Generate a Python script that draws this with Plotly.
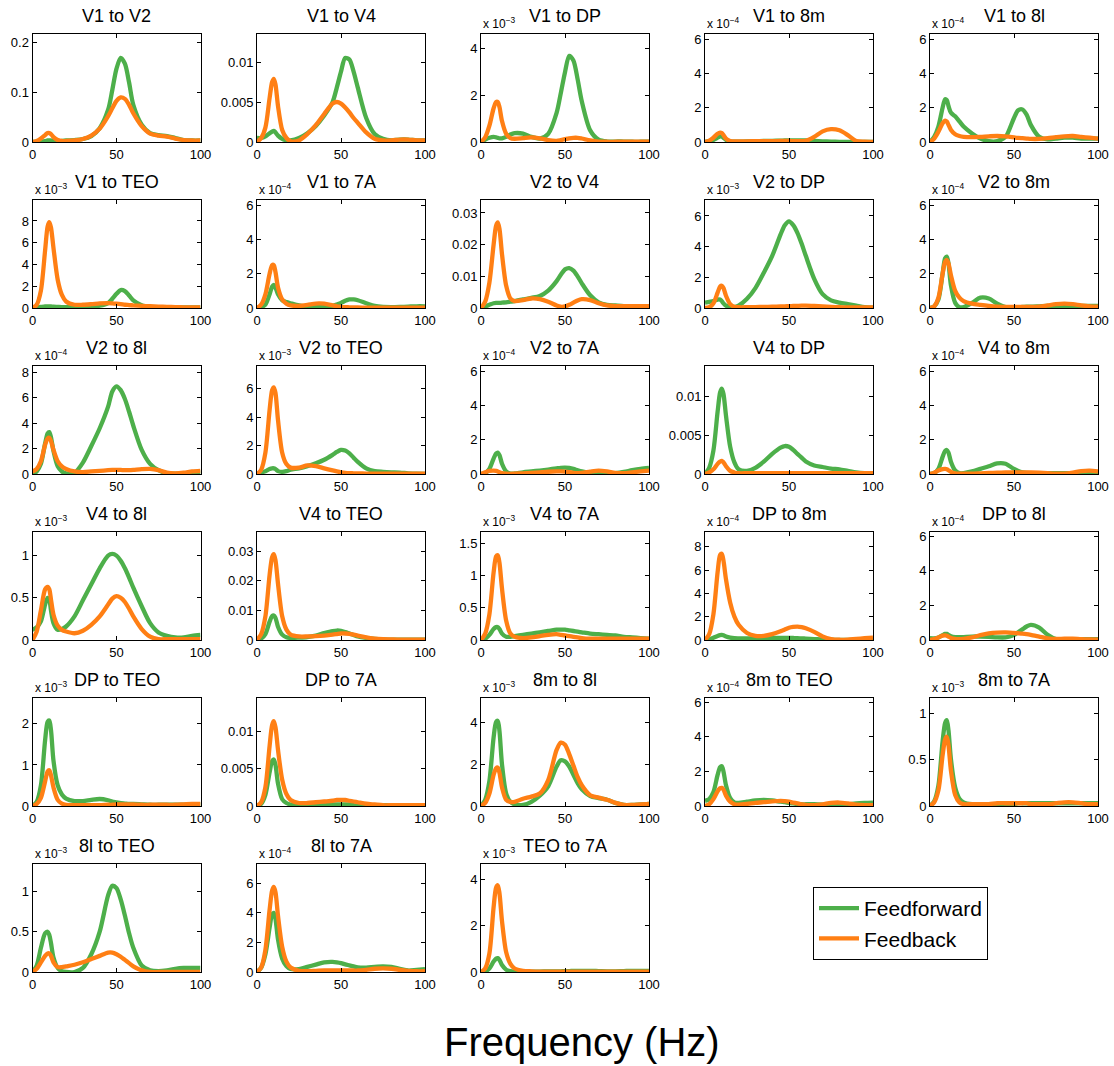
import plotly.graph_objects as go

# ---------------- data ----------------
X = [0, 2.5, 5, 7.5, 9, 10, 11, 12.5, 15, 17.5, 20, 25, 30, 35, 40, 45, 47.5, 50,
     52.5, 55, 57.5, 60, 65, 70, 75, 80, 85, 90, 95, 100]

TITLES = ['V1 to V2', 'V1 to V4', 'V1 to DP', 'V1 to 8m', 'V1 to 8l',
          'V1 to TEO', 'V1 to 7A', 'V2 to V4', 'V2 to DP', 'V2 to 8m',
          'V2 to 8l', 'V2 to TEO', 'V2 to 7A', 'V4 to DP', 'V4 to 8m',
          'V4 to 8l', 'V4 to TEO', 'V4 to 7A', 'DP to 8m', 'DP to 8l',
          'DP to TEO', 'DP to 7A', '8m to 8l', '8m to TEO', '8m to 7A',
          '8l to TEO', '8l to 7A', 'TEO to 7A']

YMAX = [0.218, 0.0135, 4.64, 6.3, 6.3,
        9.93, 6.3, 0.0341, 7.04, 6.3,
        8.5, 7.6, 6.3, 0.0139, 6.3,
        1.28, 0.0365, 1.68, 9.26, 6.25,
        2.63, 0.0144, 5.2, 6.25, 1.17,
        1.34, 7.3, 4.67]

DTICK = [0.1, 0.005, 2, 2, 2,
         2, 2, 0.01, 2, 2,
         2, 2, 2, 0.005, 2,
         0.5, 0.01, 0.5, 2, 2,
         1, 0.005, 2, 2, 0.5,
         0.5, 2, 2]

EXP = [0, 0, -3, -4, -4,
       -3, -4, 0, -3, -4,
       -4, -3, -4, 0, -4,
       -3, 0, -3, -4, -4,
       -3, 0, -3, -4, -3,
       -3, -4, -3]

ff_v1_v2 = [0, 0.0005, 0.001, 0.002, 0.003, 0.003, 0.003, 0.002, 0.002, 0.002, 0.003, 0.004, 0.006, 0.012, 0.028, 0.065, 0.105, 0.148, 0.17, 0.158, 0.12, 0.075, 0.035, 0.018, 0.014, 0.012, 0.008, 0.004, 0.003, 0.003]
fb_v1_v2 = [0, 0.002, 0.007, 0.014, 0.018, 0.018, 0.016, 0.01, 0.004, 0.002, 0.002, 0.003, 0.006, 0.013, 0.027, 0.052, 0.068, 0.083, 0.09, 0.087, 0.075, 0.058, 0.032, 0.017, 0.013, 0.011, 0.007, 0.004, 0.003, 0.003]
ff_v1_v4 = [0.0005, 0.0005, 0.0007, 0.0011, 0.0013, 0.0014, 0.0012, 0.0008, 0.0004, 0.0002, 0.0002, 0.0005, 0.0011, 0.002, 0.0033, 0.005, 0.0068, 0.0088, 0.0105, 0.0103, 0.0088, 0.0068, 0.003, 0.001, 0.0004, 0.0002, 0.0003, 0.0003, 0.0002, 0.0002]
fb_v1_v4 = [0, 0.0005, 0.0018, 0.0055, 0.0075, 0.0079, 0.0072, 0.0045, 0.0015, 0.0005, 0.0001, 0.0002, 0.001, 0.0021, 0.0035, 0.0048, 0.005, 0.0048, 0.0043, 0.0037, 0.003, 0.0024, 0.0012, 0.0004, 0.0002, 0.0002, 0.0003, 0.0003, 0.0002, 0.0002]
ff_v1_dp = [0, 0.1, 0.18, 0.22, 0.2, 0.18, 0.16, 0.16, 0.22, 0.32, 0.38, 0.36, 0.22, 0.15, 0.35, 1.25, 2.1, 3.0, 3.7, 3.5, 2.7, 1.75, 0.5, 0.1, 0.02, 0.02, 0.02, 0.01, 0.01, 0.01]
fb_v1_dp = [0, 0.2, 0.7, 1.45, 1.72, 1.72, 1.5, 0.9, 0.35, 0.17, 0.14, 0.17, 0.2, 0.16, 0.08, 0.05, 0.08, 0.12, 0.16, 0.18, 0.18, 0.15, 0.07, 0.02, 0.01, 0.01, 0.01, 0.01, 0.01, 0.01]
ff_v1_8m = [0, 0.05, 0.12, 0.25, 0.33, 0.32, 0.25, 0.12, 0.04, 0.02, 0.02, 0.03, 0.05, 0.06, 0.07, 0.08, 0.09, 0.1, 0.1, 0.1, 0.1, 0.09, 0.07, 0.04, 0.02, 0.01, 0.01, 0.01, 0.01, 0.01]
fb_v1_8m = [0, 0.08, 0.25, 0.48, 0.55, 0.52, 0.4, 0.2, 0.06, 0.03, 0.03, 0.04, 0.05, 0.05, 0.05, 0.06, 0.06, 0.06, 0.05, 0.05, 0.05, 0.07, 0.3, 0.62, 0.75, 0.68, 0.4, 0.06, 0.02, 0.01]
ff_v1_8l = [0, 0.3, 0.9, 2.0, 2.5, 2.45, 2.1, 1.7, 1.5, 1.2, 0.9, 0.5, 0.2, 0.05, 0.05, 0.3, 0.8, 1.4, 1.85, 1.9, 1.6, 1.0, 0.3, 0.15, 0.2, 0.25, 0.25, 0.2, 0.2, 0.2]
fb_v1_8l = [0, 0.2, 0.6, 1.1, 1.25, 1.2, 1.0, 0.7, 0.45, 0.35, 0.3, 0.28, 0.3, 0.33, 0.35, 0.33, 0.3, 0.27, 0.24, 0.22, 0.2, 0.18, 0.18, 0.22, 0.28, 0.33, 0.35, 0.3, 0.25, 0.2]
ff_v1_teo = [0, 0.05, 0.1, 0.15, 0.15, 0.15, 0.14, 0.12, 0.1, 0.08, 0.08, 0.1, 0.12, 0.15, 0.22, 0.45, 0.85, 1.3, 1.65, 1.55, 1.15, 0.7, 0.25, 0.1, 0.06, 0.05, 0.05, 0.05, 0.05, 0.05]
fb_v1_teo = [0, 0.3, 1.6, 5.3, 7.5, 7.9, 7.4, 5.5, 2.6, 1.2, 0.6, 0.3, 0.3, 0.35, 0.42, 0.45, 0.43, 0.4, 0.36, 0.3, 0.27, 0.24, 0.2, 0.16, 0.13, 0.1, 0.08, 0.06, 0.05, 0.05]
ff_v1_7a = [0, 0.05, 0.2, 0.8, 1.25, 1.35, 1.2, 0.8, 0.45, 0.35, 0.28, 0.15, 0.08, 0.05, 0.06, 0.12, 0.2, 0.3, 0.42, 0.5, 0.5, 0.45, 0.28, 0.12, 0.06, 0.05, 0.06, 0.08, 0.1, 0.1]
fb_v1_7a = [0, 0.2, 0.8, 2.0, 2.5, 2.5, 2.1, 1.2, 0.5, 0.25, 0.15, 0.12, 0.18, 0.26, 0.25, 0.15, 0.1, 0.07, 0.05, 0.04, 0.03, 0.03, 0.02, 0.02, 0.02, 0.02, 0.02, 0.02, 0.02, 0.02]
ff_v2_v4 = [0, 0.0005, 0.001, 0.0015, 0.0016, 0.0016, 0.0016, 0.0017, 0.0018, 0.002, 0.0022, 0.0027, 0.0032, 0.0038, 0.0055, 0.0085, 0.0105, 0.0122, 0.0126, 0.0118, 0.01, 0.0078, 0.004, 0.0018, 0.001, 0.0008, 0.0006, 0.0005, 0.0005, 0.0005]
fb_v2_v4 = [0, 0.002, 0.008, 0.02, 0.026, 0.027, 0.025, 0.017, 0.007, 0.003, 0.0022, 0.0025, 0.003, 0.0028, 0.002, 0.0008, 0.0004, 0.0005, 0.001, 0.0017, 0.0024, 0.0028, 0.0025, 0.0015, 0.0008, 0.0006, 0.0006, 0.0006, 0.0006, 0.0006]
ff_v2_dp = [0.35, 0.4, 0.45, 0.55, 0.55, 0.45, 0.3, 0.15, 0.05, 0.05, 0.15, 0.6, 1.3, 2.3, 3.4, 4.8, 5.4, 5.65, 5.4, 4.9, 4.2, 3.4, 1.9, 0.9, 0.5, 0.35, 0.25, 0.15, 0.05, 0.02]
fb_v2_dp = [0, 0.05, 0.3, 1.0, 1.4, 1.45, 1.3, 0.8, 0.25, 0.08, 0.05, 0.05, 0.06, 0.07, 0.08, 0.1, 0.11, 0.12, 0.13, 0.14, 0.15, 0.15, 0.13, 0.1, 0.07, 0.05, 0.04, 0.04, 0.04, 0.04]
ff_v2_8m = [0, 0.1, 0.5, 2.0, 2.9, 3.0, 2.6, 1.3, 0.3, 0.05, 0.05, 0.3, 0.6, 0.55, 0.25, 0.05, 0.03, 0.03, 0.05, 0.06, 0.08, 0.08, 0.1, 0.12, 0.12, 0.12, 0.12, 0.12, 0.12, 0.12]
fb_v2_8m = [0, 0.1, 0.6, 2.0, 2.7, 2.8, 2.6, 1.9, 1.0, 0.6, 0.4, 0.25, 0.18, 0.12, 0.08, 0.07, 0.07, 0.06, 0.06, 0.06, 0.06, 0.06, 0.08, 0.15, 0.22, 0.25, 0.22, 0.15, 0.1, 0.08]
ff_v2_8l = [0, 0.2, 0.8, 2.4, 3.2, 3.3, 2.9, 1.8, 0.6, 0.2, 0.05, 0.1, 0.9, 2.2, 3.6, 5.3, 6.5, 6.9, 6.6, 5.9, 4.9, 3.8, 1.9, 0.8, 0.3, 0.05, 0.02, 0.05, 0.1, 0.15]
fb_v2_8l = [0.2, 0.4, 1.0, 2.3, 2.8, 2.85, 2.6, 1.9, 1.0, 0.6, 0.4, 0.2, 0.15, 0.2, 0.25, 0.3, 0.32, 0.33, 0.32, 0.3, 0.3, 0.32, 0.38, 0.4, 0.3, 0.1, 0.05, 0.1, 0.2, 0.25]
ff_v2_teo = [0, 0.1, 0.2, 0.35, 0.4, 0.4, 0.35, 0.2, 0.15, 0.2, 0.3, 0.4, 0.55, 0.75, 1.0, 1.35, 1.55, 1.7, 1.65, 1.45, 1.15, 0.85, 0.4, 0.2, 0.15, 0.12, 0.1, 0.05, 0.02, 0.01]
fb_v2_teo = [0, 0.3, 1.5, 4.5, 5.9, 6.1, 5.7, 3.8, 1.5, 0.7, 0.45, 0.45, 0.6, 0.55, 0.4, 0.25, 0.18, 0.12, 0.08, 0.06, 0.05, 0.04, 0.03, 0.02, 0.02, 0.02, 0.02, 0.02, 0.02, 0.02]
ff_v2_7a = [0, 0.05, 0.3, 0.9, 1.2, 1.25, 1.1, 0.6, 0.15, 0.02, 0.03, 0.1, 0.15, 0.2, 0.26, 0.33, 0.36, 0.37, 0.35, 0.3, 0.22, 0.15, 0.05, 0.02, 0.02, 0.05, 0.12, 0.22, 0.3, 0.35]
fb_v2_7a = [0, 0.1, 0.18, 0.2, 0.18, 0.15, 0.1, 0.05, 0.02, 0.01, 0.02, 0.04, 0.07, 0.1, 0.13, 0.15, 0.15, 0.14, 0.11, 0.07, 0.05, 0.06, 0.14, 0.2, 0.15, 0.06, 0.05, 0.1, 0.15, 0.2]
ff_v4_dp = [0, 0.0008, 0.003, 0.008, 0.0105, 0.011, 0.0103, 0.0075, 0.0035, 0.0015, 0.0006, 0.0004, 0.0008, 0.0016, 0.0026, 0.0034, 0.0036, 0.0035, 0.0031, 0.0026, 0.0021, 0.0016, 0.0011, 0.0009, 0.0007, 0.0006, 0.0004, 0.0002, 0.0001, 0.0001]
fb_v4_dp = [0, 0.0002, 0.0006, 0.0013, 0.0016, 0.0017, 0.0015, 0.001, 0.0004, 0.0002, 0.0001, 0.0001, 0.0001, 0.0001, 0.0001, 0.0001, 0.0001, 0.0001, 0.0001, 0.0001, 0.0001, 0.0001, 0.0001, 0.0001, 0.0001, 0.0001, 0.0001, 0.0001, 0.0001, 0.0001]
ff_v4_8m = [0, 0.05, 0.3, 1.0, 1.35, 1.4, 1.25, 0.7, 0.2, 0.05, 0.05, 0.15, 0.3, 0.45, 0.62, 0.6, 0.45, 0.3, 0.18, 0.1, 0.06, 0.05, 0.05, 0.05, 0.05, 0.05, 0.05, 0.05, 0.05, 0.05]
fb_v4_8m = [0, 0.08, 0.2, 0.28, 0.3, 0.28, 0.22, 0.12, 0.04, 0.02, 0.02, 0.02, 0.04, 0.06, 0.08, 0.09, 0.1, 0.1, 0.1, 0.1, 0.1, 0.1, 0.08, 0.05, 0.02, 0.02, 0.08, 0.17, 0.2, 0.15]
ff_v4_8l = [0.12, 0.15, 0.22, 0.42, 0.5, 0.48, 0.35, 0.2, 0.12, 0.13, 0.16, 0.28, 0.47, 0.66, 0.85, 1.0, 1.02, 1.0, 0.94, 0.85, 0.74, 0.62, 0.4, 0.2, 0.09, 0.05, 0.03, 0.03, 0.05, 0.06]
fb_v4_8l = [0, 0.1, 0.35, 0.6, 0.63, 0.6, 0.48, 0.3, 0.17, 0.12, 0.1, 0.08, 0.11, 0.18, 0.28, 0.42, 0.49, 0.52, 0.5, 0.45, 0.37, 0.28, 0.13, 0.04, 0.01, 0.01, 0.01, 0.01, 0.01, 0.01]
ff_v4_teo = [0, 0.0005, 0.002, 0.0062, 0.0081, 0.0083, 0.0075, 0.0045, 0.0018, 0.0009, 0.0007, 0.0008, 0.001, 0.0015, 0.0023, 0.003, 0.0032, 0.0031, 0.0027, 0.0022, 0.0017, 0.0012, 0.0007, 0.0004, 0.0002, 0.0001, 0.0001, 0.0001, 0.0001, 0.0001]
fb_v4_teo = [0, 0.002, 0.008, 0.022, 0.028, 0.029, 0.027, 0.019, 0.008, 0.0035, 0.0018, 0.0012, 0.0012, 0.0013, 0.0015, 0.0018, 0.002, 0.0022, 0.0022, 0.0021, 0.0018, 0.0015, 0.0009, 0.0005, 0.0003, 0.0002, 0.0001, 0.0001, 0.0001, 0.0001]
ff_v4_7a = [0, 0.02, 0.08, 0.17, 0.2, 0.2, 0.17, 0.1, 0.05, 0.05, 0.06, 0.08, 0.1, 0.12, 0.14, 0.16, 0.16, 0.16, 0.15, 0.14, 0.13, 0.12, 0.1, 0.09, 0.08, 0.07, 0.05, 0.04, 0.03, 0.02]
fb_v4_7a = [0, 0.1, 0.4, 1.05, 1.3, 1.32, 1.2, 0.8, 0.3, 0.1, 0.05, 0.03, 0.04, 0.06, 0.08, 0.09, 0.08, 0.07, 0.06, 0.05, 0.04, 0.03, 0.02, 0.02, 0.02, 0.02, 0.02, 0.02, 0.02, 0.02]
ff_dp_8m = [0, 0.05, 0.2, 0.35, 0.42, 0.43, 0.4, 0.3, 0.2, 0.15, 0.14, 0.14, 0.15, 0.16, 0.17, 0.18, 0.18, 0.18, 0.17, 0.16, 0.14, 0.12, 0.08, 0.04, 0.02, 0.01, 0.01, 0.01, 0.01, 0.01]
fb_dp_8m = [0, 0.5, 2.2, 5.8, 7.3, 7.4, 6.8, 5.2, 3.2, 2.0, 1.3, 0.6, 0.35, 0.35, 0.5, 0.75, 0.9, 1.05, 1.12, 1.15, 1.1, 1.0, 0.7, 0.3, 0.08, 0.02, 0.04, 0.1, 0.15, 0.2]
ff_dp_8l = [0.1, 0.1, 0.15, 0.28, 0.35, 0.35, 0.3, 0.22, 0.17, 0.16, 0.17, 0.2, 0.2, 0.18, 0.15, 0.15, 0.2, 0.3, 0.45, 0.62, 0.78, 0.88, 0.72, 0.3, 0.05, 0.02, 0.03, 0.05, 0.05, 0.05]
fb_dp_8l = [0, 0.05, 0.15, 0.25, 0.27, 0.25, 0.2, 0.12, 0.06, 0.05, 0.07, 0.15, 0.28, 0.38, 0.43, 0.44, 0.43, 0.41, 0.39, 0.37, 0.34, 0.3, 0.2, 0.1, 0.06, 0.08, 0.08, 0.05, 0.03, 0.02]
ff_dp_teo = [0, 0.1, 0.5, 1.6, 2.05, 2.08, 1.85, 1.1, 0.5, 0.28, 0.18, 0.12, 0.12, 0.15, 0.17, 0.14, 0.11, 0.09, 0.07, 0.06, 0.05, 0.05, 0.04, 0.03, 0.03, 0.03, 0.03, 0.03, 0.03, 0.03]
fb_dp_teo = [0, 0.05, 0.2, 0.6, 0.84, 0.87, 0.75, 0.45, 0.15, 0.06, 0.03, 0.02, 0.02, 0.02, 0.02, 0.03, 0.03, 0.04, 0.04, 0.04, 0.04, 0.04, 0.03, 0.03, 0.03, 0.03, 0.03, 0.04, 0.05, 0.05]
ff_dp_7a = [0, 0.0003, 0.0015, 0.0045, 0.006, 0.0062, 0.0055, 0.003, 0.0009, 0.0004, 0.0002, 0.0001, 0.0001, 0.0001, 0.0002, 0.0002, 0.0002, 0.0002, 0.0002, 0.0002, 0.0001, 0.0001, 0.0001, 0.0001, 0.0001, 0.0001, 0.0001, 0.0001, 0.0001, 0.0001]
fb_dp_7a = [0, 0.0005, 0.0025, 0.008, 0.0108, 0.0113, 0.0105, 0.0075, 0.0035, 0.0016, 0.0008, 0.0004, 0.0004, 0.0005, 0.0006, 0.0007, 0.0008, 0.0008, 0.0008, 0.0007, 0.0006, 0.0005, 0.0003, 0.0002, 0.0001, 0.0001, 0.0001, 0.0001, 0.0001, 0.0001]
ff_8m_8l = [0, 0.3, 1.2, 3.3, 4.05, 4.1, 3.6, 2.0, 0.6, 0.2, 0.08, 0.05, 0.2, 0.5, 0.95, 1.9, 2.2, 2.15, 1.9, 1.5, 1.1, 0.8, 0.48, 0.38, 0.3, 0.15, 0.05, 0.05, 0.08, 0.1]
fb_8m_8l = [0, 0.15, 0.6, 1.5, 1.82, 1.85, 1.6, 0.9, 0.3, 0.2, 0.2, 0.35, 0.45, 0.6, 1.25, 2.7, 3.05, 2.95, 2.5, 1.95, 1.4, 1.0, 0.52, 0.4, 0.3, 0.15, 0.05, 0.05, 0.08, 0.1]
ff_8m_teo = [0.3, 0.4, 0.8, 1.8, 2.25, 2.3, 2.0, 1.2, 0.45, 0.2, 0.18, 0.25, 0.32, 0.35, 0.32, 0.25, 0.22, 0.18, 0.15, 0.12, 0.1, 0.1, 0.1, 0.08, 0.05, 0.05, 0.1, 0.15, 0.18, 0.2]
fb_8m_teo = [0, 0.1, 0.4, 0.85, 1.03, 1.05, 0.95, 0.6, 0.25, 0.1, 0.08, 0.12, 0.18, 0.22, 0.27, 0.3, 0.28, 0.25, 0.2, 0.15, 0.1, 0.06, 0.05, 0.1, 0.18, 0.2, 0.15, 0.08, 0.05, 0.05]
ff_8m_7a = [0, 0.05, 0.22, 0.7, 0.9, 0.93, 0.82, 0.5, 0.2, 0.08, 0.04, 0.02, 0.02, 0.02, 0.02, 0.02, 0.02, 0.02, 0.03, 0.03, 0.03, 0.03, 0.03, 0.03, 0.03, 0.03, 0.03, 0.03, 0.03, 0.03]
fb_8m_7a = [0, 0.04, 0.17, 0.55, 0.72, 0.75, 0.66, 0.38, 0.12, 0.04, 0.02, 0.02, 0.02, 0.02, 0.03, 0.03, 0.03, 0.03, 0.03, 0.03, 0.03, 0.02, 0.02, 0.02, 0.03, 0.04, 0.04, 0.03, 0.02, 0.02]
ff_8l_teo = [0, 0.08, 0.3, 0.48, 0.5, 0.46, 0.36, 0.18, 0.05, 0.01, 0.0, 0.0, 0.05, 0.22, 0.5, 0.95, 1.07, 1.04, 0.9, 0.7, 0.48, 0.3, 0.08, 0.02, 0.01, 0.02, 0.04, 0.05, 0.05, 0.05]
fb_8l_teo = [0, 0.04, 0.12, 0.2, 0.23, 0.23, 0.2, 0.12, 0.06, 0.06, 0.07, 0.09, 0.12, 0.16, 0.2, 0.24, 0.24, 0.22, 0.19, 0.15, 0.11, 0.07, 0.02, 0.0, 0.0, 0.0, 0.0, 0.0, 0.0, 0.0]
ff_8l_7a = [0, 0.3, 1.2, 3.0, 3.9, 4.0, 3.6, 2.2, 0.9, 0.4, 0.2, 0.2, 0.35, 0.5, 0.65, 0.68, 0.65, 0.6, 0.52, 0.45, 0.38, 0.32, 0.3, 0.35, 0.38, 0.35, 0.22, 0.1, 0.15, 0.2]
fb_8l_7a = [0, 0.3, 1.5, 4.2, 5.5, 5.75, 5.4, 3.8, 1.7, 0.7, 0.3, 0.08, 0.06, 0.08, 0.1, 0.1, 0.1, 0.1, 0.1, 0.1, 0.1, 0.1, 0.15, 0.22, 0.25, 0.22, 0.15, 0.08, 0.05, 0.05]
ff_teo_7a = [0, 0.03, 0.15, 0.45, 0.58, 0.6, 0.52, 0.3, 0.1, 0.04, 0.02, 0.02, 0.02, 0.02, 0.03, 0.03, 0.03, 0.04, 0.04, 0.05, 0.05, 0.05, 0.05, 0.04, 0.03, 0.03, 0.04, 0.05, 0.05, 0.05]
fb_teo_7a = [0, 0.15, 0.8, 2.8, 3.65, 3.75, 3.4, 2.2, 0.85, 0.35, 0.15, 0.05, 0.03, 0.02, 0.02, 0.02, 0.02, 0.02, 0.02, 0.02, 0.02, 0.02, 0.02, 0.02, 0.02, 0.02, 0.02, 0.02, 0.02, 0.02]

FEEDFORWARD = [ff_v1_v2, ff_v1_v4, ff_v1_dp, ff_v1_8m, ff_v1_8l,
               ff_v1_teo, ff_v1_7a, ff_v2_v4, ff_v2_dp, ff_v2_8m,
               ff_v2_8l, ff_v2_teo, ff_v2_7a, ff_v4_dp, ff_v4_8m,
               ff_v4_8l, ff_v4_teo, ff_v4_7a, ff_dp_8m, ff_dp_8l,
               ff_dp_teo, ff_dp_7a, ff_8m_8l, ff_8m_teo, ff_8m_7a,
               ff_8l_teo, ff_8l_7a, ff_teo_7a]
FEEDBACK = [fb_v1_v2, fb_v1_v4, fb_v1_dp, fb_v1_8m, fb_v1_8l,
            fb_v1_teo, fb_v1_7a, fb_v2_v4, fb_v2_dp, fb_v2_8m,
            fb_v2_8l, fb_v2_teo, fb_v2_7a, fb_v4_dp, fb_v4_8m,
            fb_v4_8l, fb_v4_teo, fb_v4_7a, fb_dp_8m, fb_dp_8l,
            fb_dp_teo, fb_dp_7a, fb_8m_8l, fb_8m_teo, fb_8m_7a,
            fb_8l_teo, fb_8l_7a, fb_teo_7a]

# ---------------- layout ----------------
W, H = 1114, 1066
COL_LEFT = [32.5, 257, 481, 705, 930]
ROW_TOP = [34, 200, 366, 532, 698, 864]
AX_W, AX_H = 168, 108
GREEN = '#4DAF4A'
ORANGE = '#FF7F14'
FONT = 'Liberation Sans, Arial, Helvetica, sans-serif'

fig = go.Figure()
annotations = []
layout = {}

for i, title in enumerate(TITLES):
    r, c = divmod(i, 5)
    n = i + 1
    xa = 'x' if n == 1 else f'x{n}'
    ya = 'y' if n == 1 else f'y{n}'
    left = COL_LEFT[c]
    top = ROW_TOP[r]
    x0, x1 = left / W, (left + AX_W) / W
    y1, y0 = 1 - top / H, 1 - (top + AX_H) / H

    fig.add_trace(go.Scatter(x=X, y=FEEDFORWARD[i], xaxis=xa, yaxis=ya, mode='lines',
                             name='Feedforward', legendgroup='ff', showlegend=(i == 0),
                             line=dict(color=GREEN, width=4.3, shape='spline', smoothing=0.8)))
    fig.add_trace(go.Scatter(x=X, y=FEEDBACK[i], xaxis=xa, yaxis=ya, mode='lines',
                             name='Feedback', legendgroup='fb', showlegend=(i == 0),
                             line=dict(color=ORANGE, width=4.3, shape='spline', smoothing=0.8)))

    axcommon = dict(showgrid=False, zeroline=False, showline=True, linecolor='black',
                    linewidth=1, mirror='allticks', ticks='inside', ticklen=4,
                    tickcolor='black', tickfont=dict(size=13, color='black', family=FONT),
                    automargin=False)
    layout['xaxis' if n == 1 else f'xaxis{n}'] = dict(
        domain=[x0, x1], range=[0, 100], tickmode='array', tickvals=[0, 50, 100],
        anchor=ya, **axcommon)
    layout['yaxis' if n == 1 else f'yaxis{n}'] = dict(
        domain=[y0, y1], range=[0, YMAX[i]], tick0=0, dtick=DTICK[i],
        anchor=xa, **axcommon)

    annotations.append(dict(text=title, x=(x0 + x1) / 2, y=y1, xref='paper', yref='paper',
                            xanchor='center', yanchor='bottom', yshift=6, showarrow=False,
                            font=dict(size=18, color='black', family=FONT)))
    if EXP[i] != 0:
        annotations.append(dict(text=f'x 10<sup>\u2212{abs(EXP[i])}</sup>', x=x0, y=y1,
                                xref='paper', yref='paper', xanchor='left', yanchor='bottom',
                                yshift=1, showarrow=False,
                                font=dict(size=12, color='black', family=FONT)))

annotations.append(dict(text='Frequency (Hz)', x=582 / W, y=1 - 1042 / H, xref='paper',
                        yref='paper', xanchor='center', yanchor='middle', showarrow=False,
                        font=dict(size=40, color='black', family=FONT)))

fig.update_layout(
    width=W, height=H, margin=dict(l=0, r=0, t=0, b=0),
    paper_bgcolor='white', plot_bgcolor='white',
    annotations=annotations,
    legend=dict(x=813 / W, y=1 - 887 / H, xanchor='left', yanchor='top',
                bordercolor='black', borderwidth=1, bgcolor='white', itemwidth=40,
                font=dict(size=21, color='black', family=FONT), tracegroupgap=0),
    **layout)

fig.write_html('out.html', config={'displayModeBar': False},
               post_script="document.body.style.margin='0';")
